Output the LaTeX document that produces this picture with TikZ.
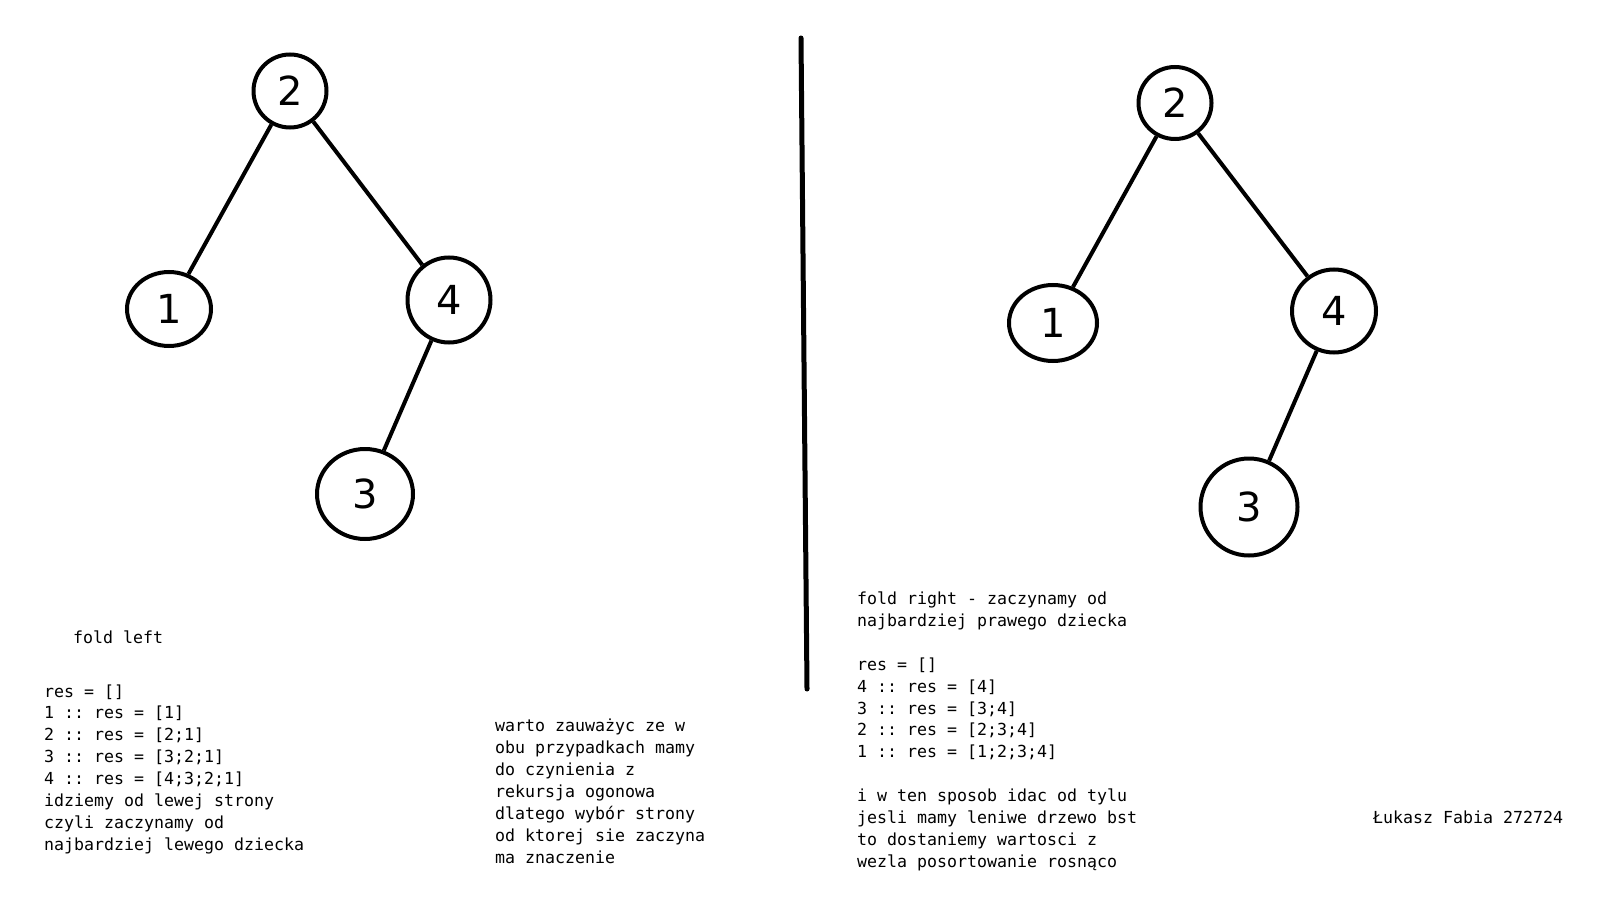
\documentclass[tikz,border=0pt]{standalone}
\usepackage{fontspec}
\newfontfamily\notefont{DejaVu Sans Mono}
\newfontfamily\digitfont{DejaVu Sans}
\usetikzlibrary{shapes.geometric}
\frenchspacing

\begin{document}
\begin{tikzpicture}[x=1pt,y=-1pt,
  vertex/.style={ellipse, draw, line width=4pt, inner sep=0pt,
    font=\digitfont\fontsize{40}{40}\selectfont},
  edge/.style={line width=4pt},
  note/.style={anchor=base west, inner sep=0pt, align=left,
    font=\notefont\fontsize{16.6}{21.85}\selectfont}]
\fill[white] (0,0) rectangle (1624,901);
\useasboundingbox (0,0) rectangle (1624,901);
% fold left tree
\node[vertex, minimum width=73, minimum height=73] (l2) at (290,91) {2};
\node[vertex, minimum width=84, minimum height=74] (l1) at (169,309) {1};
\node[vertex, minimum width=83, minimum height=85] (l4) at (449,300) {4};
\node[vertex, minimum width=96, minimum height=90] (l3) at (365,494) {3};
\draw[edge] (l2) -- (l1);
\draw[edge] (l2) -- (l4);
\draw[edge] (l4) -- (l3);
% fold right tree
\node[vertex, minimum width=73, minimum height=72] (r2) at (1175,103) {2};
\node[vertex, minimum width=88, minimum height=76] (r1) at (1053,323) {1};
\node[vertex, minimum width=84, minimum height=83] (r4) at (1334,311) {4};
\node[vertex, minimum width=97, minimum height=97] (r3) at (1249,507) {3};
\draw[edge] (r2) -- (r1);
\draw[edge] (r2) -- (r4);
\draw[edge] (r4) -- (r3);
% divider
\draw[line width=5pt, line cap=round] (801,38) -- (807,689);
% notes (base west = baseline of the last line)
\node[note] (foldl) at (73,643) {fold left};
\node[note] (resl) at (44,850) {res = []\\
1 :: res = [1]\\
2 :: res = [2;1]\\
3 :: res = [3;2;1]\\
4 :: res = [4;3;2;1]\\
idziemy od lewej strony\\
czyli zaczynamy od\\
najbardziej lewego dziecka};
\node[note] (uwaga) at (495,863) {warto zauważyc ze w\\
obu przypadkach mamy\\
do czynienia z\\
rekursja ogonowa\\
dlatego wybór strony\\
od ktorej sie zaczyna\\
ma znaczenie};
\node[note] (resr) at (857,867) {fold right - zaczynamy od\\
najbardziej prawego dziecka\\[21.85pt]
res = []\\
4 :: res = [4]\\
3 :: res = [3;4]\\
2 :: res = [2;3;4]\\
1 :: res = [1;2;3;4]\\[21.85pt]
i w ten sposob idac od tylu\\
jesli mamy leniwe drzewo bst\\
to dostaniemy wartosci z\\
wezla posortowanie rosnąco};
\node[note] (autor) at (1373,823) {Łukasz Fabia 272724};
\end{tikzpicture}
\end{document}
